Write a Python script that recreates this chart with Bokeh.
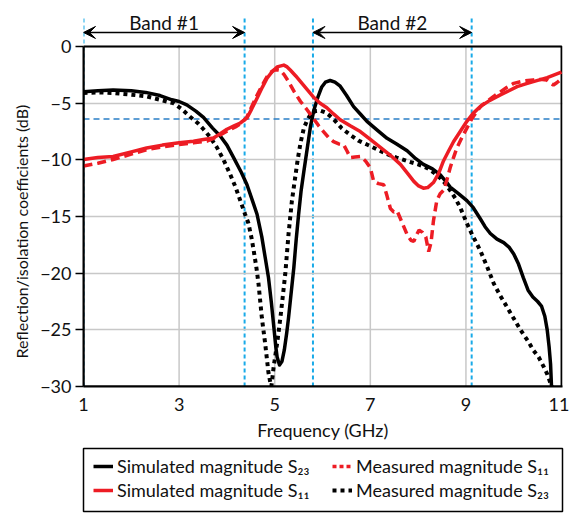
from bokeh.plotting import figure
from bokeh.models import (Range1d, Span, Label, Legend, LegendItem, Arrow, VeeHead,
                          FixedTicker, ColumnDataSource, Title)
from bokeh.layouts import column
from bokeh.embed import file_html
from bokeh.resources import INLINE

FONT = "Lato"
RED = "#ed1c24"
INK = "#111111"
CYAN = "#19aae8"

# ---- data -------------------------------------------------------------
x_ticks = [1, 3, 5, 7, 9, 11]
y_ticks = [0, -5, -10, -15, -20, -25, -30]

band_edges = [1.0, 4.37, 5.80, 9.12]          # GHz
band_names = ["Band #1", "Band #2"]
threshold_db = -6.4

sim_s23_f = [1.0, 1.3, 1.62, 2.0, 2.3, 2.6, 2.85, 3.0, 3.16, 3.35, 3.51, 3.7, 3.86, 4.0,
             4.14, 4.3, 4.42, 4.55, 4.63, 4.73, 4.8, 4.87, 4.93, 4.98, 5.02, 5.05, 5.1,
             5.15, 5.2, 5.25, 5.29, 5.35, 5.4, 5.45, 5.5, 5.55, 5.61, 5.68, 5.75, 5.82,
             5.9, 5.98, 6.06, 6.16, 6.26, 6.37, 6.5, 6.65, 6.8, 6.93, 7.15, 7.35, 7.55,
             7.77, 7.95, 8.11, 8.3, 8.46, 8.6, 8.67, 8.85, 9.02, 9.15, 9.3, 9.4, 9.51,
             9.65, 9.79, 9.9, 10.0, 10.1, 10.2, 10.3, 10.4, 10.5, 10.58, 10.65, 10.7,
             10.74, 10.77, 10.79]
sim_s23_db = [-4.0, -3.9, -3.83, -3.9, -4.05, -4.33, -4.7, -4.85, -5.15, -5.7, -6.26, -7.2,
              -7.9, -8.7, -9.8, -11.1, -12.2, -13.8, -14.8, -16.8, -18.6, -20.4, -22.6,
              -24.7, -26.4, -27.4, -28.1, -27.8, -26.8, -25.3, -23.9, -21.5, -19.5, -17.0,
              -14.8, -12.8, -11.0, -9.0, -7.0, -5.6, -4.5, -3.6, -3.15, -3.0, -3.15, -3.5,
              -4.3, -5.3, -6.0, -6.6, -7.4, -8.1, -8.6, -9.2, -9.9, -10.4, -10.8, -11.3,
              -12.0, -12.4, -13.0, -13.6, -14.2, -15.2, -15.9, -16.5, -17.0, -17.3, -17.7,
              -18.3, -19.2, -20.4, -21.5, -22.1, -22.5, -22.9, -23.8, -25.0, -26.5, -28.0,
              -30.0]

meas_s23_f = [1.0, 1.3, 1.62, 2.0, 2.32, 2.6, 2.88, 3.05, 3.23, 3.4, 3.51, 3.65, 3.79,
              3.93, 4.07, 4.18, 4.28, 4.38, 4.45, 4.52, 4.56, 4.62, 4.66, 4.73, 4.8, 4.87,
              4.91, 4.93, 4.98, 5.05, 5.12, 5.17, 5.22, 5.29, 5.36, 5.42, 5.48, 5.54, 5.61,
              5.68, 5.75, 5.85, 5.95, 6.05, 6.15, 6.23, 6.4, 6.58, 6.75, 6.93, 7.15, 7.35,
              7.55, 7.77, 8.0, 8.18, 8.32, 8.46, 8.57, 8.67, 8.78, 8.88, 8.95, 9.02, 9.13,
              9.3, 9.45, 9.58, 9.72, 9.86, 10.0, 10.14, 10.3, 10.41, 10.52, 10.62, 10.7,
              10.76, 10.8]
meas_s23_db = [-4.1, -4.05, -4.1, -4.25, -4.4, -4.7, -5.0, -5.5, -6.2, -6.8, -7.3, -8.0,
               -8.9, -10.0, -11.3, -12.4, -13.6, -14.8, -15.6, -17.0, -18.0, -19.6, -20.9,
               -23.9, -26.2, -28.8, -29.7, -30.0, -28.2, -26.2, -23.9, -22.0, -20.1, -16.5,
               -13.6, -11.8, -10.0, -8.5, -7.2, -6.5, -6.0, -5.7, -5.65, -5.8, -6.1, -6.4,
               -7.2, -7.8, -8.3, -8.65, -9.1, -9.5, -9.8, -10.1, -10.4, -10.7, -11.1, -11.6,
               -12.1, -12.7, -13.4, -14.2, -14.9, -15.6, -16.6, -18.0, -19.5, -20.9, -22.0,
               -23.0, -24.0, -25.0, -26.0, -26.8, -27.4, -28.2, -28.9, -29.6, -30.0]

sim_s11_f = [1.0, 1.3, 1.62, 2.0, 2.32, 2.65, 3.0, 3.3, 3.51, 3.72, 3.86, 4.0, 4.15, 4.28,
             4.42, 4.52, 4.63, 4.74, 4.84, 4.95, 5.05, 5.19, 5.26, 5.33, 5.44, 5.54, 5.68,
             5.82, 5.95, 6.09, 6.23, 6.37, 6.58, 6.79, 7.0, 7.21, 7.42, 7.63, 7.8, 7.91,
             8.01, 8.11, 8.2, 8.32, 8.43, 8.53, 8.64, 8.74, 8.88, 9.02, 9.15, 9.3, 9.5,
             9.72, 9.9, 10.07, 10.25, 10.41, 10.7, 10.97, 11.0]
sim_s11_db = [-9.97, -9.8, -9.7, -9.3, -8.95, -8.7, -8.5, -8.35, -8.2, -8.07, -7.7, -7.3,
              -7.0, -6.75, -6.3, -5.5, -4.56, -3.6, -2.8, -2.2, -1.8, -1.64, -1.8, -2.1,
              -2.6, -3.1, -3.8, -4.5, -5.0, -5.4, -5.95, -6.46, -7.0, -7.5, -8.2, -8.9,
              -9.6, -10.4, -11.3, -11.9, -12.3, -12.5, -12.45, -12.0, -11.2, -10.1, -9.2,
              -8.4, -7.5, -6.6, -5.9, -5.3, -4.75, -4.27, -3.9, -3.54, -3.3, -3.1, -2.75,
              -2.3, -2.25]

meas_s11_f = [1.0, 1.3, 1.62, 2.0, 2.32, 2.65, 3.0, 3.3, 3.58, 3.72, 3.86, 4.03, 4.2, 4.32,
              4.42, 4.52, 4.63, 4.74, 4.84, 4.91, 4.98, 5.05, 5.12, 5.2, 5.29, 5.41, 5.54,
              5.68, 5.82, 5.92, 6.02, 6.12, 6.23, 6.34, 6.44, 6.51, 6.58, 6.68, 6.79, 6.9,
              7.0, 7.07, 7.17, 7.28, 7.35, 7.42, 7.49, 7.56, 7.66, 7.77, 7.85, 7.91, 7.97,
              8.02, 8.09, 8.16, 8.22, 8.27, 8.32, 8.39, 8.46, 8.53, 8.6, 8.67, 8.74, 8.81,
              8.92, 9.02, 9.12, 9.23, 9.33, 9.44, 9.58, 9.72, 9.86, 10.0, 10.2, 10.41,
              10.55, 10.69, 10.76, 10.83, 10.9, 10.97, 11.0]
meas_s11_db = [-10.55, -10.3, -9.97, -9.5, -9.1, -8.85, -8.65, -8.5, -8.36, -8.1, -7.8,
               -7.4, -7.05, -6.7, -6.2, -5.3, -4.3, -3.4, -2.66, -2.3, -2.1, -2.05, -2.1,
               -2.5, -3.1, -4.0, -4.85, -5.6, -6.4, -7.0, -7.5, -8.0, -8.4, -8.6, -8.65,
               -9.2, -9.8, -9.75, -9.7, -10.1, -10.7, -11.9, -12.1, -12.2, -13.2, -14.3,
               -14.6, -14.5, -15.5, -16.6, -17.1, -17.2, -16.6, -16.2, -16.4, -16.8, -18.1,
               -17.3, -15.4, -13.6, -13.0, -12.7, -11.8, -10.7, -9.8, -8.95, -8.0, -7.2,
               -6.4, -5.7, -5.2, -4.85, -4.4, -4.0, -3.6, -3.25, -3.05, -2.95, -2.9, -2.95,
               -3.2, -3.4, -3.2, -2.95, -2.9]

series_names = ["Simulated magnitude S\u2082\u2083", "Simulated magnitude S\u2081\u2081",
                "Measured magnitude S\u2081\u2081", "Measured magnitude S\u2082\u2083"]

STYLE = {
    "sim23": dict(line_color="black", line_width=3.5),
    "sim11": dict(line_color=RED, line_width=3.5),
    "meas11": dict(line_color=RED, line_width=3.5, line_dash="9 5"),
    "meas23": dict(line_color="black", line_width=4, line_dash="4 4"),
}

# ---- axes: the y range runs above 0 dB to leave room for the band markers
x_lo, x_hi = x_ticks[0], x_ticks[-1]
y_top, y_bot = y_ticks[0], y_ticks[-1]
p = figure(width=569, height=447, x_range=Range1d(x_lo, 11.02), y_range=Range1d(y_bot, 4.06),
           output_backend="svg", toolbar_location=None,
           min_border_left=83, min_border_right=7, min_border_top=0, min_border_bottom=61)
p.outline_line_color = None

p.xaxis.ticker = FixedTicker(ticks=x_ticks)
p.yaxis.ticker = FixedTicker(ticks=y_ticks)
p.yaxis.bounds = (y_bot, y_top)
p.yaxis.major_label_overrides = {t: ("\u2212" + str(abs(t)) if t < 0 else str(t)) for t in y_ticks}
p.axis.axis_line_color = "black"
p.axis.axis_line_width = 2
p.axis.minor_tick_line_color = None
p.xaxis.major_tick_line_color = None
p.yaxis.major_tick_in = 0
p.yaxis.major_tick_out = 8
p.yaxis.major_tick_line_width = 1.5
p.yaxis.major_tick_line_color = "black"
p.axis.major_label_text_font = FONT
p.axis.major_label_text_font_size = "18px"
p.axis.major_label_text_color = INK
p.xaxis.major_label_standoff = 5
p.yaxis.major_label_standoff = 4
p.xaxis.axis_label = "Frequency (GHz)"
p.xaxis.axis_label_text_font = FONT
p.xaxis.axis_label_text_font_style = "normal"
p.xaxis.axis_label_text_font_size = "18px"
p.xaxis.axis_label_text_color = INK
p.xaxis.axis_label_standoff = 5

# y title, anchored at the lower edge of the box so it sits beside 0 .. -30 dB
p.add_layout(Title(text="Reflection/isolation coefficients (dB)", align="left", offset=28,
                   text_font=FONT, text_font_size="16px", text_font_style="normal",
                   text_color=INK, standoff=13), "left")

# grid: horizontal lines from the axis ticker, vertical ones only inside the box
p.xgrid.visible = False
p.ygrid.grid_line_color = "#c8c8c8"
p.ygrid.grid_line_width = 1.5
inner_x = x_ticks[1:-1]
p.segment(x0=inner_x, y0=[y_bot] * len(inner_x), x1=inner_x, y1=[y_top] * len(inner_x),
          line_color="#c8c8c8", line_width=1.5, level="underlay")

# band limits (reaching up into the marker strip) and the threshold level
p.segment(x0=band_edges, y0=[y_bot] * len(band_edges), x1=band_edges,
          y1=[2.56] * len(band_edges), line_color=CYAN, line_width=2, line_dash="4 3",
          level="underlay")
p.add_layout(Span(location=threshold_db, dimension="width", line_color="#2a7fc6",
                  line_width=1.6, line_dash="6 4", level="underlay"))

# plot box
p.quad(left=x_lo, right=x_hi, bottom=y_bot, top=y_top, fill_color=None,
       line_color="black", line_width=2)

p.line(meas_s23_f, meas_s23_db, **STYLE["meas23"])
p.line(sim_s23_f, sim_s23_db, line_join="round", **STYLE["sim23"])
p.line(meas_s11_f, meas_s11_db, **STYLE["meas11"])
p.line(sim_s11_f, sim_s11_db, line_join="round", **STYLE["sim11"])

# band markers above the box
for lo, hi in [(band_edges[0], band_edges[1]), (band_edges[2], band_edges[3])]:
    p.add_layout(Arrow(x_start=lo, y_start=1.24, x_end=hi, y_end=1.24, line_width=1.5,
                       line_color="black",
                       start=VeeHead(size=12, fill_color="black", line_color="black"),
                       end=VeeHead(size=12, fill_color="black", line_color="black")))
band_src = ColumnDataSource(dict(
    x=[(band_edges[0] + band_edges[1]) / 2, (band_edges[2] + band_edges[3]) / 2],
    y=[2.12, 2.12], text=band_names))
p.text(x="x", y="y", text="text", source=band_src, text_align="center",
       text_baseline="alphabetic", text_font={"value": FONT}, text_font_size={"value": "19px"},
       text_color=INK)

p.add_layout(Label(x=0.27, y=-34.15, text="(b)", text_align="center", text_baseline="middle",
                   text_font=FONT, text_font_size="18px", text_color=INK))

# ---- legend box below the axes ----------------------------------------
key = figure(width=569, height=67, x_range=Range1d(0, 1), y_range=Range1d(0, 1),
             output_backend="svg", toolbar_location=None,
             x_axis_location=None, y_axis_location=None,
             min_border_left=83, min_border_right=6, min_border_top=1, min_border_bottom=3)
key.grid.visible = False
key.outline_line_color = "black"
key.outline_line_width = 1.5

# key swatches sit outside the visible range; only their legend glyphs show
off = dict(x=[-2, -1], y=[-2, -2])
k_sim23 = key.line(**off, **STYLE["sim23"])
k_sim11 = key.line(**off, **STYLE["sim11"])
k_meas11 = key.line(**off, line_color=RED, line_width=3.5, line_dash="4 3")
k_meas23 = key.line(**off, **STYLE["meas23"])

legend_style = dict(label_text_font=FONT, label_text_font_size="18px", label_text_color=INK,
                    glyph_width=20, glyph_height=20, label_standoff=4, label_height=20,
                    spacing=2, padding=0, margin=0, border_line_color=None,
                    background_fill_alpha=0)
key.add_layout(Legend(items=[LegendItem(label=series_names[0], renderers=[k_sim23]),
                             LegendItem(label=series_names[1], renderers=[k_sim11])],
                      location=(10, 10), **legend_style))
key.add_layout(Legend(items=[LegendItem(label=series_names[2], renderers=[k_meas11]),
                             LegendItem(label=series_names[3], renderers=[k_meas23])],
                      location=(249, 10), **legend_style))

layout = column(p, key, spacing=0)
open("out.html", "w").write(file_html(layout, INLINE))
